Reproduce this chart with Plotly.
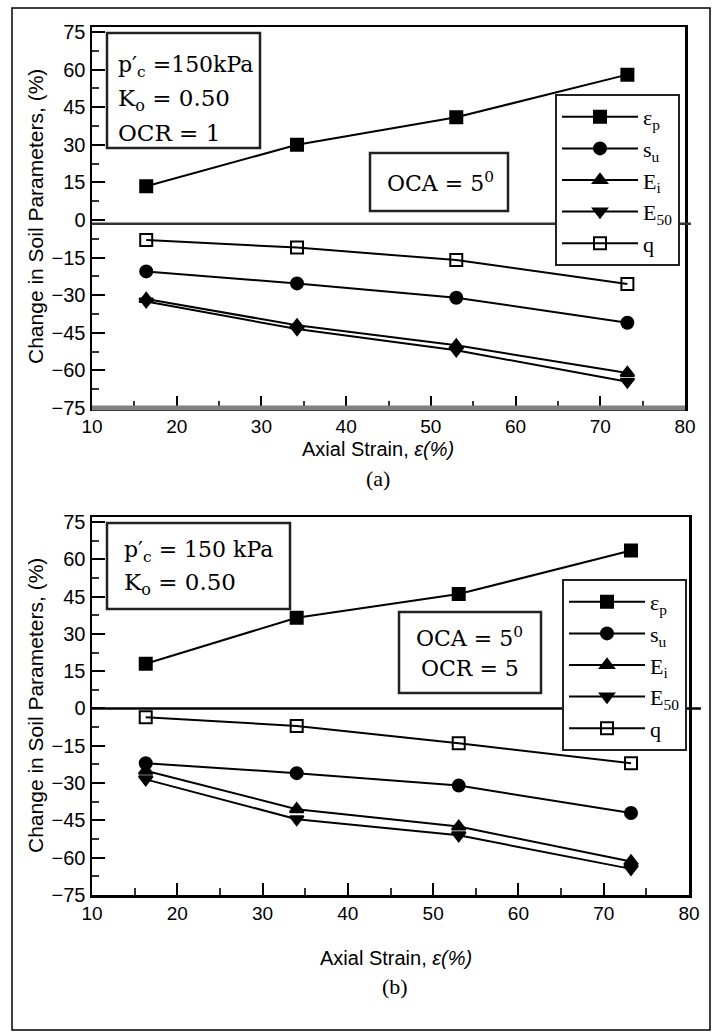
import plotly.graph_objects as go

# ---------------- data ----------------
strain_a = [16.4, 34.2, 53.0, 73.2]
eps_p_a = [13.5, 30.0, 41.0, 58.0]
s_u_a = [-20.5, -25.3, -31.0, -41.0]
E_i_a = [-31.5, -42.0, -50.0, -61.0]
E50_a = [-32.5, -43.5, -52.0, -64.5]
q_a = [-8.0, -11.0, -16.0, -25.5]

strain_b = [16.3, 34.0, 53.0, 73.2]
eps_p_b = [18.0, 36.5, 46.0, 63.5]
s_u_b = [-22.0, -26.0, -31.0, -42.0]
E_i_b = [-25.0, -40.5, -47.5, -61.5]
E50_b = [-28.5, -44.5, -51.0, -64.5]
q_b = [-3.5, -7.0, -14.0, -22.0]

names = ["ε<sub>p</sub>", "s<sub>u</sub>", "E<sub>i</sub>", "E<sub>50</sub>", "q"]
symbols = ["square", "circle", "triangle-up", "triangle-down", "square-open"]

x_ticks = [10, 20, 30, 40, 50, 60, 70, 80]
y_ticks = [75, 60, 45, 30, 15, 0, -15, -30, -45, -60, -75]
zero_a = -1.5
zero_b = 0.0

W, H = 715, 1032
def px(x):
    return x / W
def py(y):
    return 1 - y / H

SANS = "Liberation Sans, Arial, sans-serif"
SERIF = "Liberation Serif, Times New Roman, serif"
WSERIF = "DejaVu Serif, serif"

fig = go.Figure()

series_a = [eps_p_a, s_u_a, E_i_a, E50_a, q_a]
series_b = [eps_p_b, s_u_b, E_i_b, E50_b, q_b]

for i, (nm, sym, ys) in enumerate(zip(names, symbols, series_a)):
    fig.add_trace(go.Scatter(
        x=strain_a, y=ys, name=nm, mode="lines+markers",
        line=dict(color="black", width=2),
        marker=dict(symbol=sym, size=12, color="black",
                    line=dict(color="black", width=2)),
        xaxis="x", yaxis="y", legend="legend", legendgroup="a%d" % i))

for i, (nm, sym, ys) in enumerate(zip(names, symbols, series_b)):
    fig.add_trace(go.Scatter(
        x=strain_b, y=ys, name=nm, mode="lines+markers",
        line=dict(color="black", width=2),
        marker=dict(symbol=sym, size=12, color="black",
                    line=dict(color="black", width=2)),
        xaxis="x2", yaxis="y2", legend="legend2", legendgroup="b%d" % i))

def xax(domain, anchor):
    return dict(domain=domain, anchor=anchor, range=[10, 80], automargin=False,
                tickvals=x_ticks, ticks="inside", ticklen=12, tickwidth=2,
                tickcolor="black",
                minor=dict(dtick=5, tick0=5, ticks="inside", ticklen=7,
                           tickwidth=2, tickcolor="#333"),
                showline=True, linecolor="black", linewidth=2.5, mirror=True,
                showgrid=False, zeroline=False,
                tickfont=dict(family=SANS, size=19, color="black"))

def yax(domain, anchor):
    return dict(domain=domain, anchor=anchor, range=[-75, 77], automargin=False,
                tickvals=y_ticks, ticks="inside", ticklen=13, tickwidth=2,
                tickcolor="black",
                minor=dict(dtick=7.5, tick0=0, ticks="inside", ticklen=7,
                           tickwidth=2, tickcolor="#333"),
                showline=True, linecolor="black", linewidth=2.5, mirror=True,
                showgrid=False, zeroline=False,
                tickfont=dict(family=SANS, size=20, color="black"))

leg_common = dict(bordercolor="#222", borderwidth=2, bgcolor="white",
                  font=dict(family=SERIF, size=22, color="black"),
                  itemwidth=76, tracegroupgap=0, xanchor="left", yanchor="top",
                  itemclick=False)

fig.update_layout(
    template="none",
    width=W, height=H, margin=dict(l=0, r=0, t=0, b=0, autoexpand=False),
    paper_bgcolor="white", plot_bgcolor="white", showlegend=True,
    xaxis=xax([px(92), px(685)], "y"),
    yaxis=yax([py(408), py(27)], "x"),
    xaxis2=xax([px(92), px(689)], "y2"),
    yaxis2=yax([py(895), py(517)], "x2"),
    legend=dict(x=px(555), y=py(94), **leg_common),
    legend2=dict(x=px(562), y=py(579), **leg_common),
)

shapes = []
# outer frame
shapes.append(dict(type="rect", xref="paper", yref="paper",
                   x0=px(12), x1=px(710), y0=py(1030), y1=py(8),
                   line=dict(color="black", width=1.5)))
# zero lines
shapes.append(dict(type="line", xref="x domain", yref="y", x0=0, x1=1.01,
                   y0=zero_a, y1=zero_a, line=dict(color="#333", width=2.5)))
shapes.append(dict(type="line", xref="x2 domain", yref="y2", x0=0, x1=1.02,
                   y0=zero_b, y1=zero_b, line=dict(color="black", width=2.5)))
# gray bottom axis (a)
shapes.append(dict(type="line", xref="x domain", yref="y domain", x0=0, x1=1,
                   y0=0, y1=0, line=dict(color="#808080", width=5)))
# text boxes
for (x0, y0, x1, y1) in [(107, 33, 260, 148), (370, 153, 508, 211),
                         (107, 523, 290, 609), (399, 612, 541, 693)]:
    shapes.append(dict(type="rect", xref="paper", yref="paper",
                       x0=px(x0), x1=px(x1), y0=py(y1), y1=py(y0),
                       fillcolor="white", line=dict(color="#222", width=2.5),
                       layer="above"))
fig.update_layout(shapes=shapes)

ann = []
def txt(x, y, s, size=23, family=WSERIF, xanchor="left", angle=0):
    ann.append(dict(xref="paper", yref="paper", x=px(x), y=py(y), text=s,
                    showarrow=False, xanchor=xanchor, yanchor="middle",
                    textangle=angle,
                    font=dict(family=family, size=size, color="black")))

txt(116, 66, "p′<sub>c</sub> =150kPa", size=22)
txt(116, 100, "K<sub>o</sub> = 0.50")
txt(116, 133, "OCR = 1")
txt(440, 182, "OCA = 5<sup>0</sup>", size=22, xanchor="center")
txt(122, 551, "p′<sub>c</sub> = 150 kPa", size=22)
txt(122, 584, "K<sub>o</sub> = 0.50")
txt(470, 637, "OCA = 5<sup>0</sup>", size=22, xanchor="center")
txt(470, 668, "OCR = 5", size=22, xanchor="center")

ytitle = "Change in Soil Parameters, (%)"
txt(35, 217, ytitle, size=21, family=SANS, xanchor="center", angle=-90)
txt(35, 706, ytitle, size=21, family=SANS, xanchor="center", angle=-90)
xtitle = "Axial Strain, <i>ε(%)</i>"
txt(378, 449, xtitle, size=20, family=SANS, xanchor="center")
txt(396, 958, xtitle, size=20, family=SANS, xanchor="center")
txt(378, 479, "(a)", size=22, family=SERIF, xanchor="center")
txt(395, 986, "(b)", size=22, family=SERIF, xanchor="center")
fig.update_layout(annotations=ann)

fig.write_html("out.html",
               config={"displayModeBar": False, "staticPlot": True},
               post_script="document.body.style.margin='0';"
                           "document.body.style.overflow='hidden';")
